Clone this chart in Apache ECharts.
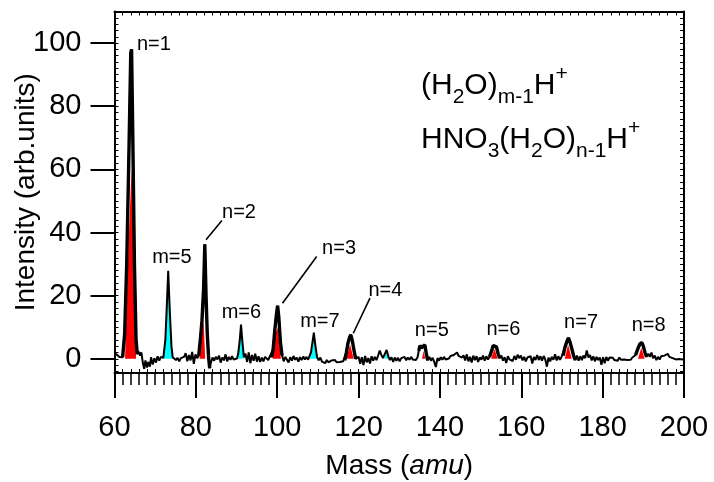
<!DOCTYPE html>
<html><head><meta charset="utf-8">
<script src="https://cdn.jsdelivr.net/npm/echarts@6/dist/echarts.min.js"></script>
<style>html,body{margin:0;padding:0;background:#fff}#c{width:714px;height:482px}</style>
</head><body><div id="c"></div>
<script>
// ---------- data ----------
const xTicks = [60, 80, 100, 120, 140, 160, 180, 200];
const yTicks = [0, 20, 40, 60, 80, 100];

// measured spectrum: [mass (amu), intensity]
const spectrum = [
[60.0,0.8],[60.4,1.5],[60.8,1.2],[61.2,0.6],[61.6,0.8],[62.0,0.5],
[62.5,8],[63.0,30],[63.5,62],[64.0,97],[64.2,98],[64.5,70],[64.9,30],[65.3,6],[65.6,1.5],
[66.0,2.2],[66.3,1.0],[66.6,2.0],[67.0,-1.5],[67.3,-3.2],[67.6,-0.5],[68.0,-2.8],[68.3,-1.0],[68.7,-2.5],[69.0,0.5],[69.4,-1.8],[69.8,0.2],[70.2,-1.2],[70.6,0.8],[71.0,-0.6],[71.4,0.6],[71.8,0.2],
[72.0,0.3],[72.5,6],[72.9,18],[73.2,27.9],[73.6,15],[74.0,4],[74.3,0.5],
[74.7,0.8],[75.1,-0.4],[75.5,0.3],[75.9,-0.8],[76.3,0.2],[76.7,-0.3],[77.1,0.6],[77.5,1.8],[77.9,-0.8],[78.3,1.2],[78.7,-0.5],[79.1,2.2],[79.5,-1.6],[79.9,1.4],[80.3,0.2],[80.7,1.0],
[81.1,6],[81.5,12],[81.9,22],[82.2,36.3],[82.5,20],[82.8,8],[83.1,1],[83.4,-3.0],[83.7,-1.2],
[84.1,0.4],[84.5,-0.6],[84.9,0.6],[85.3,-0.2],[85.7,1.0],[86.1,-1.2],[86.5,0.4],[86.9,-0.5],[87.3,1.4],[87.7,-0.8],[88.1,0.6],[88.5,-0.3],[88.9,0.8],[89.3,-0.2],[89.7,0.4],[90.1,0.1],
[90.4,1.5],[90.8,6],[91.1,10.8],[91.4,6],[91.8,0.5],
[92.2,1.6],[92.6,-1.0],[93.0,2.0],[93.4,-1.4],[93.8,1.2],[94.2,-0.6],[94.6,1.6],[95.0,-0.9],[95.4,0.8],[95.8,-1.0],[96.2,0.4],[96.6,-0.8],[97.0,0.6],[97.4,1.2],[97.8,-0.4],[98.2,0.8],[98.6,0.4],
[99.0,3],[99.4,9],[99.8,14],[100.1,16.8],[100.4,13],[100.8,5],[101.2,1],[101.6,-0.8],
[102.0,0.6],[102.4,0.0],[102.8,-1.2],[103.2,0.5],[103.6,-0.6],[104.0,0.9],[104.4,-0.3],[104.8,0.4],[105.2,-0.9],[105.6,0.5],[106.0,-0.4],[106.4,0.7],[106.8,-0.2],[107.2,0.6],[107.6,-0.3],[108.0,0.2],
[108.3,2],[108.7,5.5],[109.0,8.3],[109.4,4],[109.8,0.5],[110.2,-0.5],
[110.6,0.4],[111.0,-0.9],[111.4,-0.4],[111.8,-1.4],[112.2,-0.4],[112.6,-1.1],[113.0,-1.5],[113.4,-0.5],[113.8,-1.0],[114.2,-0.4],[114.6,-1.1],[115.0,-0.6],[115.4,-1.0],[115.8,-0.4],[116.2,-0.8],[116.6,-0.5],
[117.0,2],[117.4,5],[117.8,6.8],[118.1,7.6],[118.5,5.5],[118.9,2.5],[119.3,0],[119.6,-0.6],
[120.0,0.6],[120.4,-1.6],[120.8,0.5],[121.2,-2.0],[121.6,0.9],[122.0,-1.1],[122.4,0.2],[122.8,-1.5],[123.2,0.8],[123.6,-0.6],[124.0,0.6],[124.4,-0.4],[124.8,1.0],[125.2,2.6],[125.6,1.2],[126.0,0.2],
[126.4,0.8],[126.9,2.8],[127.3,0.8],[127.7,-0.4],
[128.1,0.5],[128.5,-1.0],[128.9,0.4],[129.3,-0.6],[129.7,0.3],[130.1,-0.8],[130.5,0.2],[130.9,-0.4],[131.3,0.6],[131.7,-0.5],[132.1,0.4],[132.5,-0.3],[132.9,0.6],[133.3,-0.2],[133.7,0.3],[134.1,-0.4],[134.5,0.5],
[134.8,2.5],[135.1,4.2],[135.5,3.5],[135.9,4.0],[136.3,4.4],[136.6,2],[137.0,-0.5],
[137.4,0.6],[137.8,-0.6],[138.2,0.3],[138.6,-1.0],[139.0,-2.6],[139.4,0.2],[139.8,-0.6],[140.2,0.5],[140.6,-0.3],[141.0,0.6],[141.4,-0.2],[141.8,0.4],[142.2,0.1],[142.6,0.9],[143.0,0.3],[143.4,1.2],[143.8,0.6],[144.2,2.0],[144.6,0.9],[145.0,1.5],[145.4,0.4],[145.8,1.1],[146.2,-0.5],[146.6,1.4],[147.0,-0.8],[147.4,0.6],[147.8,-1.2],[148.2,1.0],[148.6,-0.4],[149.0,0.8],[149.4,-1.0],[149.8,0.5],[150.2,-0.3],[150.6,1.0],[151.0,-0.6],[151.4,0.8],[151.8,-0.2],
[152.2,0.6],[152.7,2.5],[153.1,4.2],[153.5,4.7],[153.9,3.8],[154.3,1.6],[154.7,0.2],
[155.1,1.0],[155.5,-0.6],[155.9,0.5],[156.3,-1.3],[156.7,0.8],[157.1,-0.2],[157.5,0.4],[157.9,-0.7],[158.3,0.9],[158.7,-0.3],[159.1,1.3],[159.5,0.2],[159.9,1.0],[160.3,-0.5],[160.7,0.6],[161.1,-0.8],[161.5,0.4],[161.9,-0.2],[162.3,0.8],[162.7,-1.5],[163.1,0.6],[163.5,-0.4],[163.9,1.2],[164.3,-0.4],[164.7,0.8],[165.1,-0.6],[165.5,0.9],[165.9,-0.2],[166.3,-2.5],[166.7,0.4],[167.1,-0.8],[167.5,0.6],[167.9,-0.3],[168.3,1.4],[168.7,-0.5],[169.1,0.8],[169.5,-0.3],[169.9,0.6],
[170.3,1.0],[170.7,3.5],[171.2,5.5],[171.6,6.6],[172.0,5.2],[172.5,2.8],[172.9,0.8],[173.3,-0.4],
[173.7,1.0],[174.1,-0.6],[174.5,0.8],[174.9,-0.4],[175.3,1.0],[175.7,0.2],[176.1,2.6],[176.5,0.4],[176.9,1.2],[177.3,-0.5],[177.7,0.8],[178.1,-0.8],[178.5,0.6],[178.9,-0.4],[179.3,0.4],[179.7,-1.9],[180.1,0.5],[180.5,-1.4],[180.9,0.6],[181.3,-0.6],[181.7,0.4],[182.1,-0.2],[182.5,0.3],[182.9,-0.4],[183.3,0.2],[183.7,-0.6],[184.1,0.4],[184.5,-0.3],[184.9,0.3],[185.3,-0.2],[185.7,0.4],[186.1,-0.4],[186.5,0.2],[186.9,-0.3],[187.3,0.4],[187.7,0.8],
[188.1,1.2],[188.6,3.0],[189.1,4.6],[189.6,5.2],[190.0,4.0],[190.4,2.0],[190.8,0.6],
[191.2,1.6],[191.6,0.6],[192.0,2.0],[192.4,0.2],[192.8,1.0],[193.2,-0.4],[193.6,0.6],[194.0,-0.2],[194.4,0.8],[194.8,0.3],[195.2,1.0],[195.6,0.4],[196.0,1.6],[196.4,0.6],[196.8,1.2],[197.2,0.2],[197.6,0.6],[198.0,-0.2],[198.4,0.4],[198.8,-0.1],[199.2,0.3],[199.6,-0.2],[200.0,0.0]
];

// fitted components: HNO3(H2O)n-1H+ (red) and (H2O)m-1H+ (cyan)
const nPeakFits = [
  [[62.6,0],[63.5,38],[64.2,60],[64.7,42],[65.3,0]],
  [[80.9,0],[81.5,8],[81.9,12],[82.3,0]],
  [[98.9,0],[99.6,8],[100.1,10],[100.9,0]],
  [[117.0,0],[117.9,4.5],[118.8,0]],
  [[135.6,0],[136.0,2.5],[136.4,0]],
  [[152.6,0],[153.4,3.2],[154.2,0]],
  [[170.7,0],[171.5,4.5],[172.4,0]],
  [[188.7,0],[189.5,3.5],[190.3,0]]
];
const mPeakFits = [
  [[72.0,0],[72.5,6],[72.9,18],[73.2,27.9],[73.6,15],[74.0,4],[74.3,0]],
  [[90.3,0],[90.8,6],[91.1,10.8],[91.4,6],[91.8,0]],
  [[108.0,0],[108.3,2],[108.7,5.5],[109.0,8.3],[109.4,4],[109.8,0]],
  [[126.4,0],[126.9,2.8],[127.3,0]]
];
// mass windows of the HNO3-cluster peaks (drawn with heavier outline)
const nPeakWindows = [[61.9,65.7],[80.6,83.5],[98.5,101.4],[116.6,119.5],[134.6,137.1],[152.1,154.8],[170.2,173.4],[187.9,191.0]];

// annotations
const peakLabels = ['n=1','m=5','n=2','m=6','n=3','m=7','n=4','n=5','n=6','n=7','n=8'];
const labelMass  = [69.7, 74.1, 90.6, 91.2, 115.2, 110.5, 126.6, 138.0, 155.6, 174.7, 191.3];
const labelValue = [99.5, 32.1, 46.4, 14.7, 35.0, 11.8, 21.6, 8.9, 9.4, 11.5, 10.4];
const leaderLines = [
  [[82.5,37.7],[86.4,43.8]],
  [[101.3,17.6],[109.7,32.4]],
  [[118.7,8.1],[122.8,19.2]]
];

// ---------- chart ----------
const FONT = '"Liberation Sans", Arial, Helvetica, sans-serif';
const yMin = -4.5, yMax = 110;
const yMinor = [];
for (let v = -4; v <= 110; v += 2) yMinor.push(v);

const chart = echarts.init(document.getElementById('c'), null, {renderer: 'canvas'});

const series = [];
nPeakFits.forEach(p => series.push({
  type: 'line', data: p, symbol: 'none', silent: true, z: 2,
  lineStyle: {width: 0, opacity: 0}, areaStyle: {color: '#ff0000', opacity: 1, origin: 0}
}));
mPeakFits.forEach(p => series.push({
  type: 'line', data: p, symbol: 'none', silent: true, z: 2,
  lineStyle: {width: 0, opacity: 0}, areaStyle: {color: '#00ffff', opacity: 1, origin: 0}
}));
series.push({
  type: 'line', data: spectrum, symbol: 'none', silent: true, z: 3,
  lineStyle: {color: '#000', width: 2}
});
nPeakWindows.forEach(w => series.push({
  type: 'line', data: spectrum.filter(d => d[0] >= w[0] && d[0] <= w[1]),
  symbol: 'none', silent: true, z: 4, lineStyle: {color: '#000', width: 3.4}
}));
series.push({
  type: 'lines', coordinateSystem: 'cartesian2d', silent: true, z: 5,
  lineStyle: {color: '#000', width: 1.6, opacity: 1},
  data: leaderLines.map(c => ({coords: c}))
});
series.push({
  type: 'scatter', symbolSize: 0, silent: true, z: 6,
  itemStyle: {opacity: 1},
  data: peakLabels.map((t, i) => ({value: [labelMass[i], labelValue[i]], name: t})),
  label: {show: true, position: 'inside', formatter: p => p.name, color: '#000', opacity: 1,
          fontSize: 20, fontFamily: FONT}
});

const innerX = (pos) => ({
  type: 'value', position: pos, min: 60, max: 200, interval: 2,
  axisLine: {show: pos === 'top', onZero: false, lineStyle: {color: '#000', width: 2}},
  axisTick: {show: true, inside: true, length: 4, lineStyle: {color: '#000', width: 1}},
  axisLabel: {show: false}, splitLine: {show: false}
});
const innerY = (pos) => ({
  type: 'value', position: pos, min: yMin, max: yMax,
  axisLine: {show: pos === 'right', onZero: false, lineStyle: {color: '#000', width: 2}},
  axisTick: {show: true, inside: true, length: 4, customValues: yMinor, lineStyle: {color: '#000', width: 1}},
  axisLabel: {show: false}, splitLine: {show: false}
});

chart.setOption({
  animation: false,
  backgroundColor: '#fff',
  grid: {left: 114.5, right: 30, top: 11.5, bottom: 109, containLabel: false, outerBoundsMode: 'none'},
  xAxis: [
    {
      type: 'value', position: 'bottom', min: 60, max: 200, interval: 20,
      axisLine: {show: true, onZero: false, lineStyle: {color: '#000', width: 2}},
      axisTick: {show: true, inside: false, length: 25, lineStyle: {color: '#000', width: 2}},
      minorTick: {show: true, splitNumber: 10, length: 12, lineStyle: {color: '#000', width: 1.5}},
      axisLabel: {color: '#000', fontSize: 29, fontFamily: FONT, margin: 40, customValues: xTicks},
      splitLine: {show: false}, minorSplitLine: {show: false},
      name: '{n|Mass (}{i|amu}{n|)}', nameLocation: 'middle', nameGap: 79, nameMoveOverlap: false,
      nameTextStyle: {rich: {
        n: {fontSize: 28, color: '#000', fontFamily: FONT},
        i: {fontSize: 28, color: '#000', fontFamily: FONT, fontStyle: 'italic'}
      }}
    },
    innerX('top'),
    innerX('bottom')
  ],
  yAxis: [
    {
      type: 'value', position: 'left', min: yMin, max: yMax,
      axisLine: {show: true, onZero: false, lineStyle: {color: '#000', width: 2}},
      axisTick: {show: true, inside: false, length: 24, customValues: yTicks, lineStyle: {color: '#000', width: 2}},
      axisLabel: {color: '#000', fontSize: 29, fontFamily: FONT, margin: 33, customValues: yTicks},
      splitLine: {show: false},
      name: 'Intensity (arb.units)', nameLocation: 'middle', nameGap: 74, nameRotate: 90, nameMoveOverlap: false,
      nameTextStyle: {color: '#000', fontSize: 28, fontFamily: FONT}
    },
    innerY('right'),
    innerY('left')
  ],
  series: series,
  graphic: [
    {
      type: 'text', left: 421, top: 64, silent: true, z: 10,
      style: {
        text: '{m|(H}{s|2}{m|O)}{s|m-1}{m|H}{p|+}',
        rich: {
          m: {fontSize: 30, lineHeight: 44, fontFamily: FONT, fill: '#000'},
          s: {fontSize: 21, lineHeight: 22, verticalAlign: 'bottom', fontFamily: FONT, fill: '#000'},
          p: {fontSize: 21, lineHeight: 24, verticalAlign: 'top', fontFamily: FONT, fill: '#000'}
        }
      }
    },
    {
      type: 'text', left: 421, top: 118, silent: true, z: 10,
      style: {
        text: '{m|HNO}{s|3}{m|(H}{s|2}{m|O)}{s|n-1}{m|H}{p|+}',
        rich: {
          m: {fontSize: 30, lineHeight: 44, fontFamily: FONT, fill: '#000'},
          s: {fontSize: 21, lineHeight: 22, verticalAlign: 'bottom', fontFamily: FONT, fill: '#000'},
          p: {fontSize: 21, lineHeight: 24, verticalAlign: 'top', fontFamily: FONT, fill: '#000'}
        }
      }
    }
  ]
});
</script>
</body></html>
